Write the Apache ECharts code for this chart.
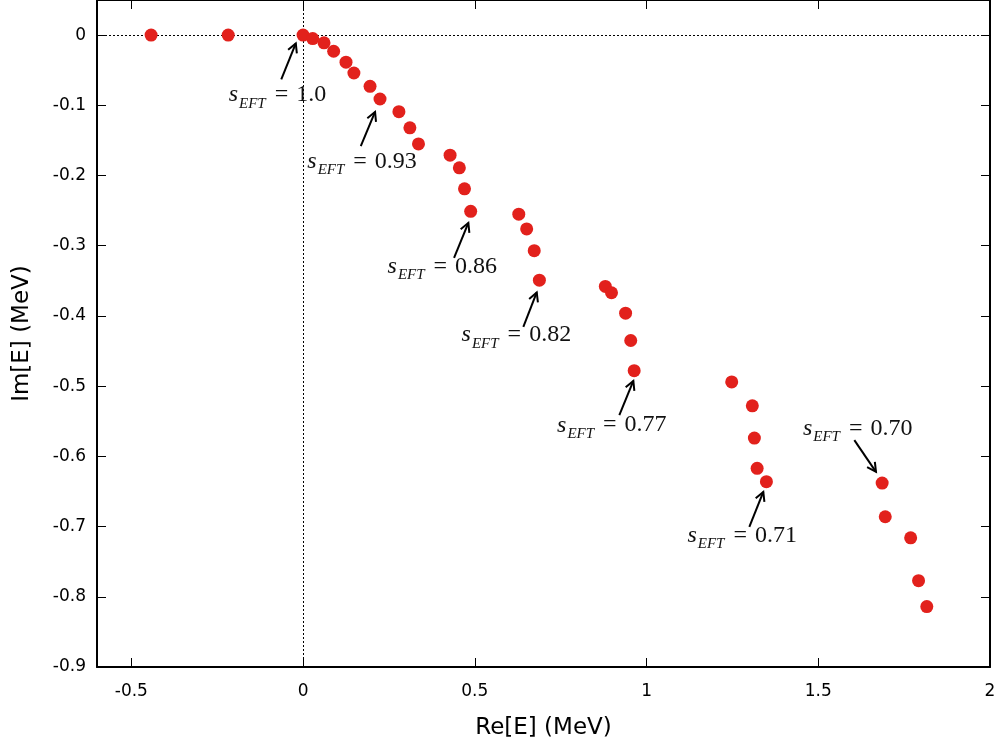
<!DOCTYPE html>
<html><head><meta charset="utf-8">
<script src="https://cdn.jsdelivr.net/npm/echarts@6/dist/echarts.min.js"></script>
<style>html,body{margin:0;padding:0;background:#fff}#c{width:1001px;height:745px}</style>
</head><body><div id="c"></div>
<script>
// Pole positions Re[E], Im[E] (MeV)
const reE = [-0.4425, -0.218, 0, 0.028, 0.061, 0.089, 0.125, 0.148, 0.195, 0.224, 0.279, 0.311, 0.336,
  0.428, 0.455, 0.470, 0.488, 0.628, 0.651, 0.673, 0.688, 0.880, 0.898, 0.939, 0.954, 0.964,
  1.248, 1.308, 1.314, 1.322, 1.349, 1.686, 1.695, 1.769, 1.792, 1.816];
const imE = [0, 0, 0, -0.005, -0.011, -0.023, -0.0385, -0.054, -0.073, -0.091, -0.109, -0.132, -0.155,
  -0.171, -0.189, -0.219, -0.251, -0.255, -0.276, -0.307, -0.349, -0.358, -0.367, -0.396, -0.435, -0.478,
  -0.494, -0.528, -0.574, -0.617, -0.636, -0.638, -0.686, -0.716, -0.777, -0.814];

const xTicks = [-0.5, 0, 0.5, 1, 1.5, 2];
const yTicks = [-0.9, -0.8, -0.7, -0.6, -0.5, -0.4, -0.3, -0.2, -0.1, 0];

// Annotations (s_EFT values) — text centre and arrow tail/head in data units
const sValues = ['1.0', '0.93', '0.86', '0.82', '0.77', '0.71', '0.70'];
const annTextX = [-0.0746, 0.1718, 0.4055, 0.621, 0.899, 1.2786, 1.6148];
const annTextY = [-0.0855, -0.1805, -0.330, -0.4274, -0.5556, -0.7123, -0.5603];
const annTailX = [-0.0635, 0.168, 0.4396, 0.6413, 0.9208, 1.2993, 1.605];
const annTailY = [-0.0632, -0.1581, -0.3172, -0.4155, -0.5413, -0.7004, -0.5769];
const annHeadX = [-0.0212, 0.2096, 0.4812, 0.6803, 0.9616, 1.340, 1.668];
const annHeadY = [-0.0118, -0.1093, -0.2674, -0.3665, -0.4925, -0.6506, -0.622];

const chart = echarts.init(document.getElementById('c'), null, {renderer: 'canvas'});
const sans = 'DejaVu Sans';
const serif = 'Liberation Serif';

function mkAxis(extra) {
  return Object.assign({
    type: 'value',
    axisLine: {show: true, onZero: false, lineStyle: {color: '#000', width: 2}},
    splitLine: {show: false},
    minorTick: {show: false}
  }, extra);
}
function ticks(vals) {
  return {show: true, inside: true, length: 9, customValues: vals, lineStyle: {color: '#000', width: 1}};
}

const option = {
  animation: false,
  backgroundColor: '#fff',
  grid: {left: 97, right: 11, top: 0, bottom: 78, containLabel: false},
  xAxis: [
    mkAxis({min: -0.6, max: 2, position: 'bottom',
      axisTick: ticks(xTicks),
      axisLabel: {show: true, customValues: xTicks, margin: 16, color: '#000', fontFamily: sans, fontSize: 17},
      name: 'Re[E] (MeV)', nameLocation: 'middle', nameGap: 50,
      nameTextStyle: {fontFamily: sans, fontSize: 23, color: '#000'}}),
    mkAxis({min: -0.6, max: 2, position: 'top',
      axisTick: ticks(xTicks),
      axisLabel: {show: false}})
  ],
  yAxis: [
    mkAxis({min: -0.9, max: 0.05, position: 'left',
      axisTick: ticks(yTicks),
      axisLabel: {show: true, customValues: yTicks, margin: 11, color: '#000', fontFamily: sans, fontSize: 17},
      name: 'Im[E] (MeV)', nameLocation: 'middle', nameGap: 63, nameRotate: 90,
      nameTextStyle: {fontFamily: sans, fontSize: 23, color: '#000'}}),
    mkAxis({min: -0.9, max: 0.05, position: 'right',
      axisTick: ticks(yTicks),
      axisLabel: {show: false}})
  ],
  series: [
    {
      type: 'scatter',
      xAxisIndex: 0, yAxisIndex: 0,
      data: reE.map((x, i) => [x, imE[i]]),
      symbol: 'circle',
      symbolSize: 13,
      itemStyle: {color: '#e2211c', opacity: 1},
      z: 5,
      markLine: {
        silent: true,
        symbol: ['none', 'none'],
        label: {show: false},
        lineStyle: {color: '#000', width: 1, type: [2, 2]},
        data: [{yAxis: 0}, {xAxis: 0}],
        z: 1
      }
    },
    {
      type: 'custom',
      xAxisIndex: 0, yAxisIndex: 0,
      clip: false,
      z: 6,
      data: sValues.map((s, i) => [annTextX[i], annTextY[i]]),
      renderItem: function (params, api) {
        const i = params.dataIndex;
        const t = api.coord([annTextX[i], annTextY[i]]);
        const a = api.coord([annTailX[i], annTailY[i]]);
        const h = api.coord([annHeadX[i], annHeadY[i]]);
        const dx = h[0] - a[0], dy = h[1] - a[1];
        const len = Math.sqrt(dx * dx + dy * dy);
        const ux = dx / len, uy = dy / len;
        const L = 10, th = 28 * Math.PI / 180;
        const c = Math.cos(th), s = Math.sin(th);
        const b1 = [h[0] - L * (ux * c - uy * s), h[1] - L * (uy * c + ux * s)];
        const b2 = [h[0] - L * (ux * c + uy * s), h[1] - L * (uy * c - ux * s)];
        return {
          type: 'group',
          children: [
            {type: 'line', shape: {x1: a[0], y1: a[1], x2: h[0], y2: h[1]},
              style: {stroke: '#000', lineWidth: 2}},
            {type: 'polyline', shape: {points: [b1, h, b2]},
              style: {stroke: '#000', lineWidth: 2, fill: null}},
            {type: 'text', x: t[0], y: t[1],
              style: {
                text: '{s|s}{sub|EFT}{eq|=}{n|' + sValues[i] + '}',
                align: 'center', verticalAlign: 'middle',
                rich: {
                  s: {fontFamily: serif, fontStyle: 'italic', fontSize: 24, lineHeight: 24, verticalAlign: 'top', fill: '#111'},
                  sub: {fontFamily: serif, fontStyle: 'italic', fontSize: 15, lineHeight: 15, padding: [13, 1, 0, 1], verticalAlign: 'top', fill: '#111'},
                  eq: {fontFamily: serif, fontSize: 24, lineHeight: 24, padding: [0, 8, 0, 8], verticalAlign: 'top', fill: '#111'},
                  n: {fontFamily: serif, fontSize: 24, lineHeight: 24, verticalAlign: 'top', fill: '#111'}
                }
              }}
          ]
        };
      }
    }
  ]
};
chart.setOption(option);
</script>
</body></html>
